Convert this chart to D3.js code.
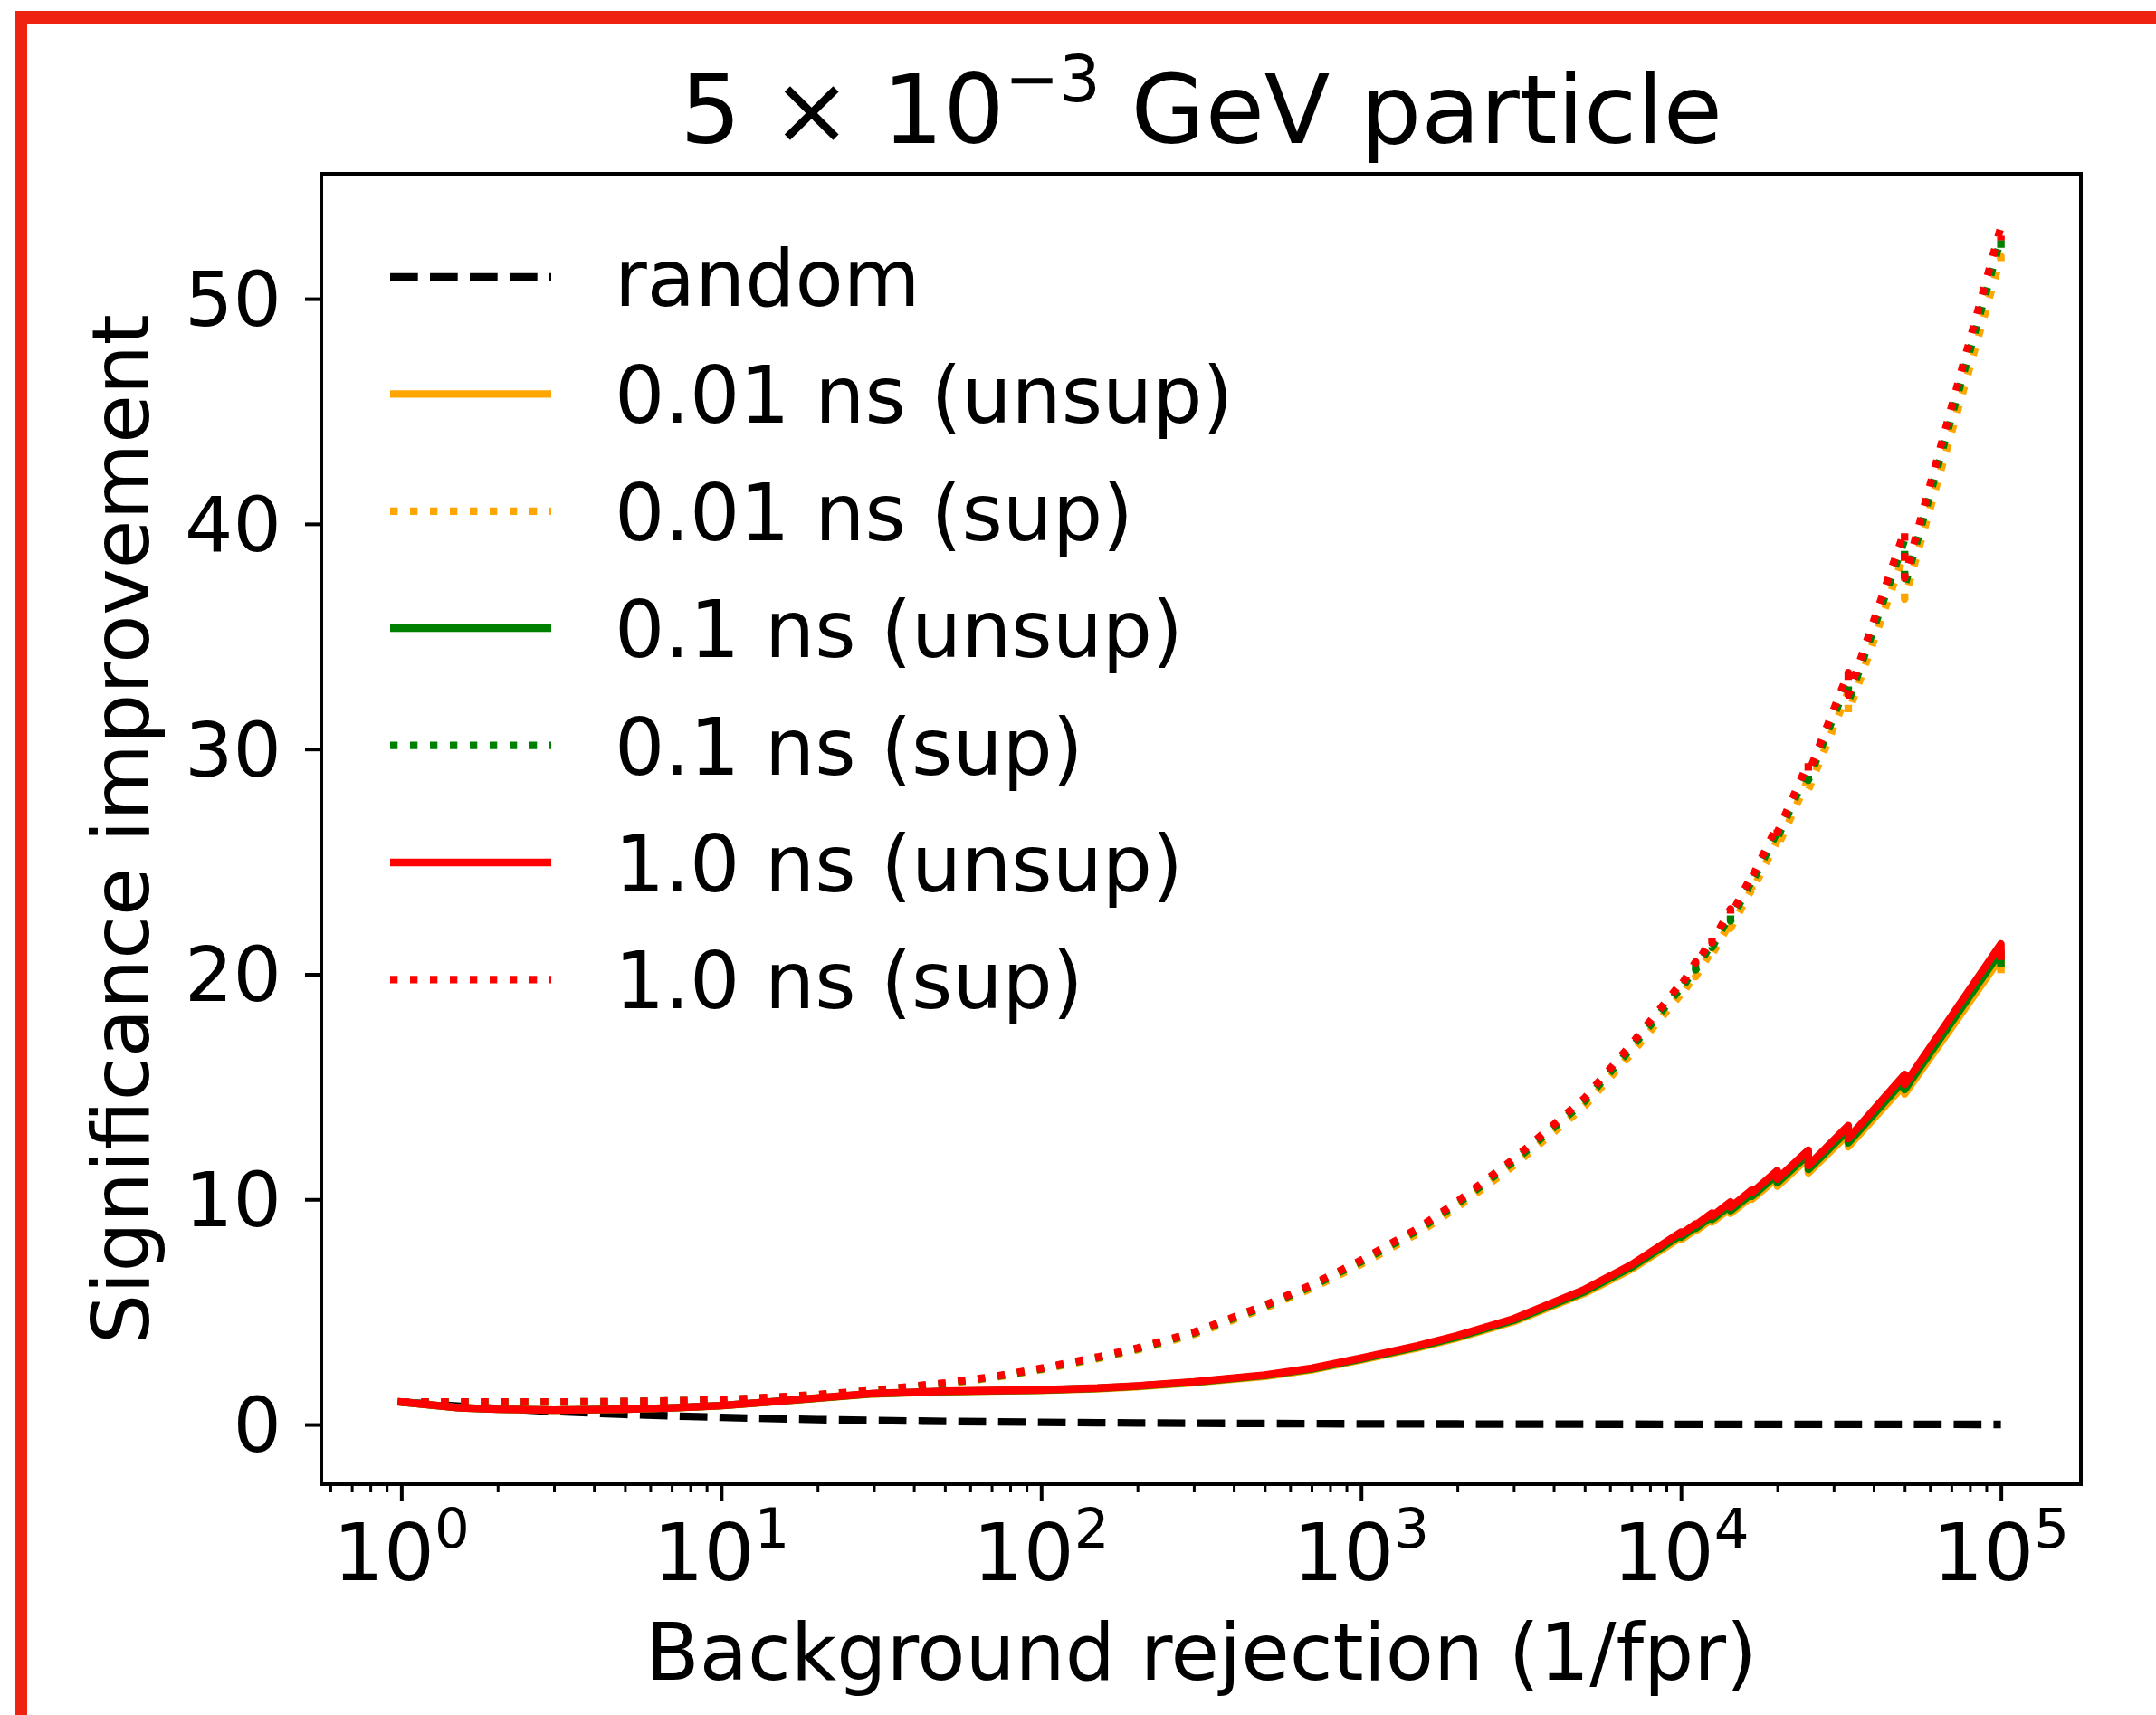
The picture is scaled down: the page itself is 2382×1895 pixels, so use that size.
<!DOCTYPE html>
<html>
<head>
<meta charset="utf-8">
<script src="https://cdn.jsdelivr.net/npm/d3@7"></script>
<style>
  html, body { margin: 0; padding: 0; background: #ffffff; }
  svg { display: block; }
  text { font-family: "DejaVu Sans", sans-serif; fill: #000; }
</style>
</head>
<body>
<svg id="chart" width="2382" height="1895"></svg>
<script>
// ---------------- data ----------------
const xRejection = [1, 1.5, 2, 3, 5, 7, 10, 15, 20, 30, 50, 70, 100, 150, 200, 300, 500, 700, 1000, 1500, 2000, 3000, 5000, 7000,
  10000, 10000, 11111, 11111, 12500, 12500, 14286, 14286, 16667, 16667, 20000, 20000, 25000, 25000, 33333, 33333, 50000, 50000, 100000, 100000];

const unsup001 = [1.0, 0.75, 0.68, 0.64, 0.68, 0.74, 0.83, 1.02, 1.16, 1.36, 1.46, 1.49, 1.52, 1.59, 1.68, 1.86, 2.14, 2.43, 2.87, 3.40, 3.84, 4.57, 5.83, 6.9,
  8.31, 8.21, 8.66, 8.6, 9.13, 8.99, 9.61, 9.38, 10.13, 10.01, 10.96, 10.59, 11.85, 11.18, 12.91, 12.34, 15.11, 14.68, 20.75, 20.22];
const sup001 = [1.0, 1.0, 1.0, 1.0, 1.01, 1.04, 1.08, 1.19, 1.3, 1.48, 1.8, 2.07, 2.44, 2.93, 3.32, 4.0, 5.17, 6.05, 7.12, 8.48, 9.65, 11.5, 14.14, 16.48,
  19.11, 19.01, 20.04, 19.89, 21.06, 20.87, 22.33, 22.04, 23.79, 23.69, 25.94, 25.64, 28.67, 28.18, 32.57, 31.59, 38.71, 36.66, 51.87, 51.29];
const unsup01 = [1.0, 0.75, 0.68, 0.64, 0.68, 0.74, 0.84, 1.03, 1.17, 1.37, 1.47, 1.50, 1.53, 1.61, 1.71, 1.88, 2.18, 2.47, 2.91, 3.45, 3.89, 4.63, 5.91, 6.99,
  8.42, 8.32, 8.77, 8.71, 9.25, 9.11, 9.74, 9.5, 10.26, 10.14, 11.11, 10.74, 12.0, 11.33, 13.08, 12.51, 15.32, 14.87, 21.03, 20.49];
const sup01 = [1.0, 1.0, 1.0, 1.0, 1.02, 1.05, 1.1, 1.21, 1.32, 1.5, 1.83, 2.1, 2.47, 2.97, 3.37, 4.06, 5.25, 6.14, 7.23, 8.61, 9.8, 11.68, 14.36, 16.73,
  19.4, 19.31, 20.34, 20.2, 21.38, 21.19, 22.67, 22.37, 24.16, 24.06, 26.33, 26.04, 29.11, 28.61, 33.07, 32.08, 39.3, 37.22, 52.67, 52.07];
const unsup1 = [1.0, 0.75, 0.68, 0.64, 0.68, 0.74, 0.84, 1.03, 1.18, 1.38, 1.48, 1.51, 1.54, 1.62, 1.72, 1.9, 2.2, 2.5, 2.95, 3.5, 3.95, 4.7, 6.0, 7.1,
  8.55, 8.45, 8.91, 8.85, 9.39, 9.25, 9.89, 9.65, 10.42, 10.3, 11.28, 10.9, 12.19, 11.5, 13.28, 12.7, 15.55, 15.1, 21.35, 20.8];
const sup1 = [1.0, 1.0, 1.0, 1.0, 1.02, 1.05, 1.1, 1.22, 1.33, 1.52, 1.85, 2.12, 2.5, 3.0, 3.4, 4.1, 5.3, 6.2, 7.3, 8.7, 9.9, 11.8, 14.5, 16.9,
  19.6, 19.5, 20.55, 20.4, 21.6, 21.4, 22.9, 22.6, 24.4, 24.3, 26.6, 26.3, 29.4, 28.9, 33.4, 32.4, 39.7, 37.6, 53.2, 52.6];

const xRandom = [1, 1.5, 2, 3, 5, 7, 10, 15, 20, 30, 50, 70, 100, 150, 200, 300, 500, 700, 1000, 2000, 5000, 10000, 30000, 100000];
const yRandom = [1.0, 0.82, 0.71, 0.58, 0.45, 0.38, 0.32, 0.26, 0.22, 0.18, 0.14, 0.12, 0.1, 0.08, 0.07, 0.06, 0.045, 0.038, 0.03, 0.022, 0.014, 0.01, 0.006, 0.003];

const seriesNames = ["random", "0.01 ns (unsup)", "0.01 ns (sup)", "0.1 ns (unsup)", "0.1 ns (sup)", "1.0 ns (unsup)", "1.0 ns (sup)"];
const seriesColors = ["#000000", "#FFA500", "#FFA500", "#008000", "#008000", "#FF0000", "#FF0000"];
const seriesStyles = ["dashed", "solid", "dotted", "solid", "dotted", "solid", "dotted"];
const seriesValues = [yRandom, unsup001, sup001, unsup01, sup01, unsup1, sup1];

const xMajorTicks = [1, 10, 100, 1000, 10000, 100000];
const xMajorExponents = ["0", "1", "2", "3", "4", "5"];
const yTicks = [0, 10, 20, 30, 40, 50];

const titleMain = "5 × 10";
const titleSup = "−3";
const titleRest = " GeV particle";
const xLabel = "Background rejection (1/fpr)";
const yLabel = "Significance improvement";

// ---------------- layout ----------------
const svg = d3.select("#chart");
const L = 355, R = 2299, T = 192, B = 1640;
const FS = 87;
const TICKFS = 84;
const LW = 8.3;

const x = d3.scaleLog().domain([Math.pow(10, -0.25), Math.pow(10, 5.25)]).range([L, R]);
const y = d3.scaleLinear().domain([-2.65, 55.55]).range([B, T]);

// red frame from the screenshot
svg.append("rect").attr("x", 17).attr("y", 12).attr("width", 2382 - 17).attr("height", 15).attr("fill", "#EE2211");
svg.append("rect").attr("x", 17).attr("y", 12).attr("width", 13).attr("height", 1895 - 12).attr("fill", "#EE2211");
// cut-off glyph at top edge (as in the screenshot)
svg.append("text").attr("x", 1230).attr("y", -12).attr("font-size", 60).attr("font-style", "italic").attr("text-anchor", "middle").text("y");

// clip
svg.append("defs").append("clipPath").attr("id", "clip")
  .append("rect").attr("x", L).attr("y", T).attr("width", R - L).attr("height", B - T);

const dashFor = s => s === "dashed" ? `${3.7 * LW},${1.6 * LW}` : (s === "dotted" ? `${1 * LW},${1.65 * LW}` : null);

const lineGen = d3.line().x(d => x(d[0])).y(d => y(d[1]));
const gLines = svg.append("g").attr("clip-path", "url(#clip)");
seriesValues.forEach((vals, i) => {
  const xs = i === 0 ? xRandom : xRejection;
  const pts = xs.map((xv, j) => [xv, vals[j]]);
  gLines.append("path")
    .attr("d", lineGen(pts))
    .attr("fill", "none")
    .attr("stroke", seriesColors[i])
    .attr("stroke-width", LW)
    .attr("stroke-linejoin", "round")
    .attr("stroke-linecap", seriesStyles[i] === "solid" ? "square" : "butt")
    .attr("stroke-dasharray", dashFor(seriesStyles[i]));
});

// axes ticks
const minorTicks = [];
for (let e = -1; e <= 5; e++) for (let m = 2; m <= 9; m++) {
  const v = m * Math.pow(10, e);
  if (v >= x.domain()[0] && v <= x.domain()[1]) minorTicks.push(v);
}
const gxMinor = svg.append("g").attr("transform", `translate(0,${B})`)
  .call(d3.axisBottom(x).tickValues(minorTicks).tickSize(9).tickFormat(""));
const gxMajor = svg.append("g").attr("transform", `translate(0,${B})`)
  .call(d3.axisBottom(x).tickValues(xMajorTicks).tickSize(18).tickFormat(""));
const gy = svg.append("g").attr("transform", `translate(${L},0)`)
  .call(d3.axisLeft(y).tickValues(yTicks).tickSize(18).tickFormat(""));
[gxMinor, gxMajor, gy].forEach(g => { g.select(".domain").remove(); g.selectAll("line").attr("stroke", "#000"); });
gxMinor.selectAll("line").attr("stroke-width", 3);
gxMajor.selectAll("line").attr("stroke-width", 4);
gy.selectAll("line").attr("stroke-width", 4);

// frame
svg.append("rect").attr("x", L).attr("y", T).attr("width", R - L).attr("height", B - T)
  .attr("fill", "none").attr("stroke", "#000").attr("stroke-width", 4);

// tick labels
xMajorTicks.forEach((v, i) => {
  const t = svg.append("text").attr("x", x(v)).attr("y", 1746).attr("text-anchor", "middle").attr("font-size", TICKFS + 4);
  t.append("tspan").text("10");
  t.append("tspan").attr("font-size", 61).attr("dy", -36).text(xMajorExponents[i]);
});
yTicks.forEach(v => {
  svg.append("text").attr("x", 311).attr("y", y(v) + 30).attr("text-anchor", "end").attr("font-size", TICKFS).text(String(v));
});

// title
const title = svg.append("text").attr("x", (L + R) / 2).attr("y", 158).attr("text-anchor", "middle").attr("font-size", 106);
title.append("tspan").text(titleMain);
title.append("tspan").attr("font-size", 72).attr("dy", -46).text(titleSup);
title.append("tspan").attr("dy", 46).text(titleRest);

// axis labels
svg.append("text").attr("x", (L + R) / 2).attr("y", 1856).attr("text-anchor", "middle").attr("font-size", FS).text(xLabel);
svg.append("text").attr("transform", `translate(164,${(T + B) / 2}) rotate(-90)`).attr("text-anchor", "middle").attr("font-size", FS).text(yLabel);

// legend
seriesNames.forEach((name, i) => {
  const cy = 306 + i * 129.4;
  svg.append("line").attr("x1", 431).attr("x2", 609).attr("y1", cy).attr("y2", cy)
    .attr("stroke", seriesColors[i]).attr("stroke-width", LW)
    .attr("stroke-dasharray", dashFor(seriesStyles[i]));
  svg.append("text").attr("x", 679).attr("y", cy + 32).attr("font-size", FS).text(name);
});
</script>
</body>
</html>
